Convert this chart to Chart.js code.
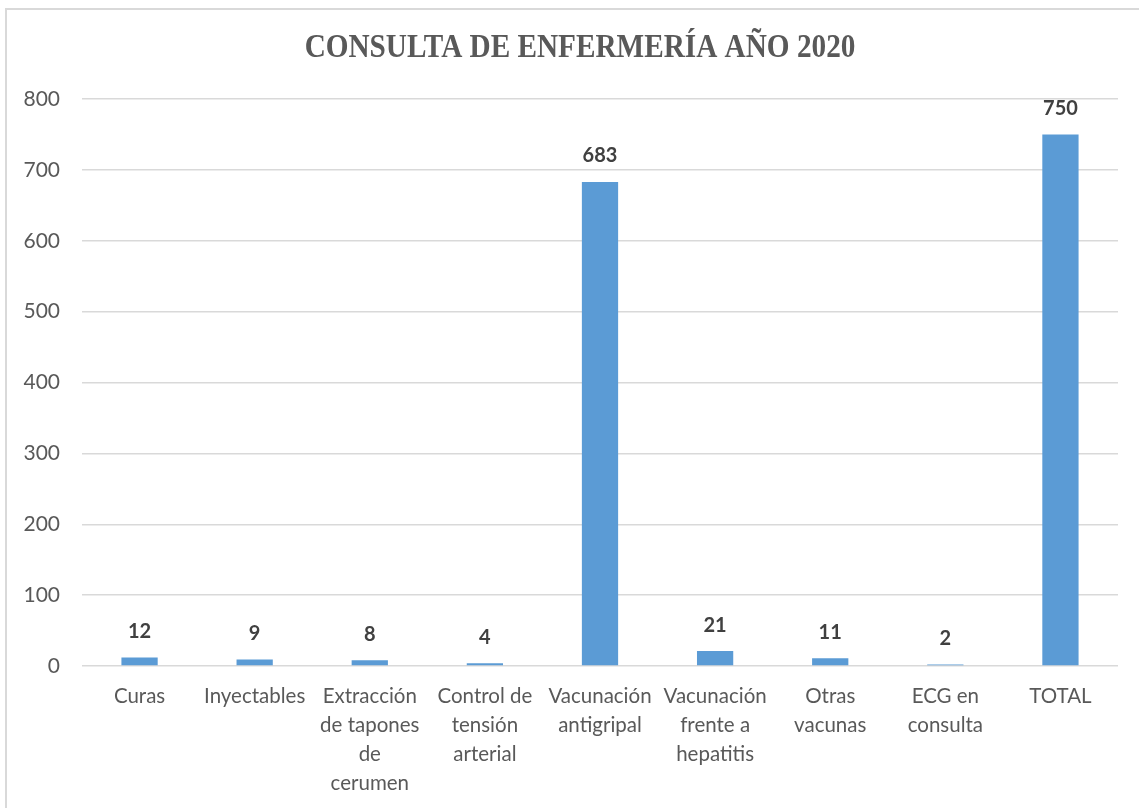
<!DOCTYPE html>
<html>
<head>
<meta charset="utf-8">
<script src="https://cdn.jsdelivr.net/npm/chart.js@4.4.1/dist/chart.umd.min.js"></script>
<style>
  html, body { margin: 0; padding: 0; background: #fff; }
  #wrap { position: relative; width: 1139px; height: 808px; overflow: hidden; }
  #frame { position: absolute; left: 5px; top: 8px; width: 1200px; height: 900px;
           border: 2px solid #d9d9d9; box-sizing: border-box; }
  canvas { position: absolute; left: 0; top: 0; }
</style>
</head>
<body>
<div id="wrap">
  <div id="frame"></div>
  <canvas id="chart" width="1139" height="808"></canvas>
</div>
<script>
// Categorías de la consulta de enfermería
const categories = [
  ['Curas'],
  ['Inyectables'],
  ['Extracción', 'de tapones', 'de', 'cerumen'],
  ['Control de', 'tensión', 'arterial'],
  ['Vacunación', 'antigripal'],
  ['Vacunación', 'frente a', 'hepatitis'],
  ['Otras', 'vacunas'],
  ['ECG en', 'consulta'],
  ['TOTAL']
];
// Número de actuaciones por categoría
const values = [12, 9, 8, 4, 683, 21, 11, 2, 750];
const yTicks = [0, 100, 200, 300, 400, 500, 600, 700, 800];
const chartTitle = 'CONSULTA DE ENFERMERÍA AÑO 2020';

const FONT = 'Lato, "Open Sans", sans-serif';

// Título dibujado sobre el lienzo (serif en negrita, algo estrechado)
const titlePlugin = {
  id: 'titleText',
  afterDraw(chart) {
    const ctx = chart.ctx;
    ctx.save();
    ctx.translate(580, 48);
    ctx.scale(0.86, 1);
    ctx.font = 'bold 34px "Liberation Serif", "DejaVu Serif", serif';
    ctx.fillStyle = '#595959';
    ctx.textAlign = 'center';
    ctx.textBaseline = 'middle';
    ctx.fillText(chartTitle, 0, 0);
    ctx.restore();
  }
};

// Etiquetas de valor encima de cada barra
const valueLabels = {
  id: 'valueLabels',
  afterDatasetsDraw(chart) {
    const ctx = chart.ctx;
    const meta = chart.getDatasetMeta(0);
    ctx.save();
    ctx.font = 'bold 20px ' + FONT;
    ctx.fillStyle = '#404040';
    ctx.textAlign = 'center';
    ctx.textBaseline = 'middle';
    meta.data.forEach((bar, i) => {
      ctx.fillText(String(values[i]), bar.x, bar.y - 26);
    });
    ctx.restore();
  }
};

new Chart(document.getElementById('chart'), {
  type: 'bar',
  data: {
    labels: categories,
    datasets: [{
      data: values,
      backgroundColor: '#5b9bd5',
      borderWidth: 0,
      barPercentage: 0.315,
      categoryPercentage: 1.0
    }]
  },
  options: {
    responsive: false,
    animation: false,
    layout: { padding: { left: 0, right: 21, top: 99, bottom: 0 } },
    plugins: {
      legend: { display: false },
      title: { display: false },
      tooltip: { enabled: false }
    },
    scales: {
      x: {
        grid: { display: false, drawTicks: false },
        border: { display: false },
        ticks: {
          autoSkip: false,
          maxRotation: 0,
          minRotation: 0,
          padding: 16,
          color: '#595959',
          font: { family: FONT, size: 20.5, lineHeight: 1.42 }
        },
        afterFit(scale) { scale.height = 808 - 666; }
      },
      y: {
        min: 0,
        max: 800,
        afterBuildTicks(scale) { scale.ticks = yTicks.map(v => ({ value: v })); },
        grid: { color: '#d9d9d9', lineWidth: 1.5, drawTicks: false },
        border: { display: false },
        ticks: {
          padding: 22,
          color: '#595959',
          font: { family: FONT, size: 21 }
        },
        afterFit(scale) { scale.width = 82; }
      }
    }
  },
  plugins: [titlePlugin, valueLabels]
});
</script>
</body>
</html>
